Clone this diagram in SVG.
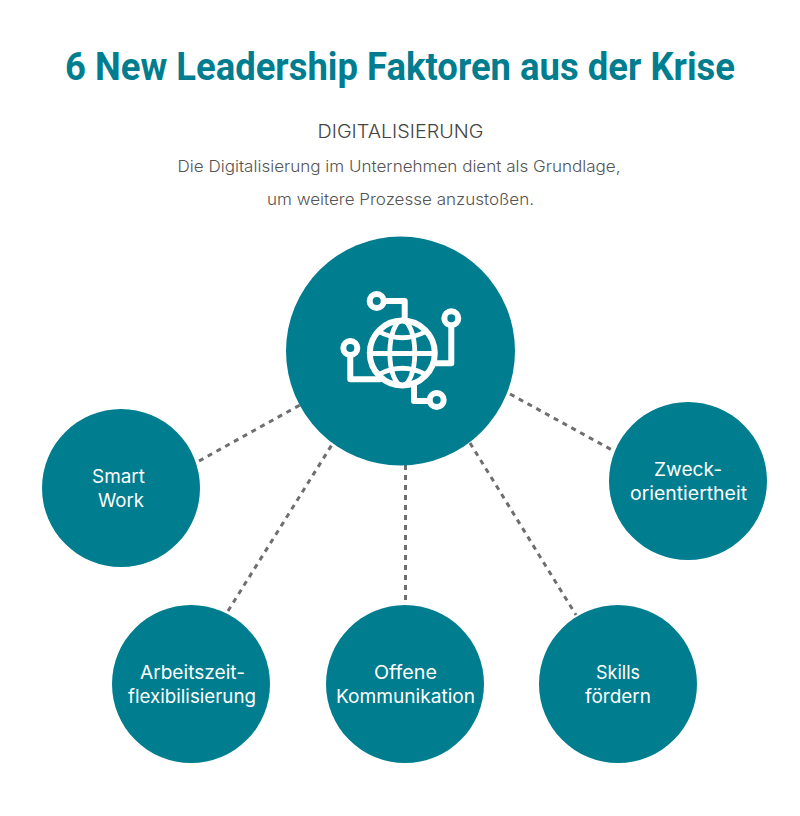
<svg xmlns="http://www.w3.org/2000/svg" width="800" height="816" viewBox="0 0 800 816">
<style>
text{font-family:"Inter","Noto Sans","Liberation Sans",sans-serif;text-anchor:middle}
.title{font-family:"Roboto","Liberation Sans",sans-serif;font-size:39px;font-weight:700;fill:#007d8f}
.sub{font-size:18px;font-weight:300;fill:#444}
.body{font-size:16px;font-weight:300;fill:#555}
.lab{font-size:18.500px;font-weight:400;fill:#fff}
.disc{fill:#007d8f}
.link{stroke:#6d6e70;stroke-width:3;stroke-dasharray:5 5;fill:none}
.ic{fill:none;stroke:#fff;stroke-width:6;stroke-linejoin:round;stroke-linecap:round}
.ic2{fill:none;stroke:#fff;stroke-width:4.800;stroke-linecap:butt}
</style>
<rect width="800" height="816" fill="#fff"/>
<text class="title" x="400" y="80" textLength="670" lengthAdjust="spacingAndGlyphs">6 New Leadership Faktoren aus der Krise</text>
<text class="sub" x="400.500" y="138" textLength="166" lengthAdjust="spacingAndGlyphs">DIGITALISIERUNG</text>
<text class="body" x="399" y="172" textLength="443" lengthAdjust="spacingAndGlyphs">Die Digitalisierung im Unternehmen dient als Grundlage,</text>
<text class="body" x="400.500" y="205" textLength="267" lengthAdjust="spacingAndGlyphs">um weitere Prozesse anzustoßen.</text>
<g id="connectors">
<line class="link" x1="199" y1="461" x2="300" y2="405"/>
<line class="link" x1="228" y1="611" x2="333" y2="443"/>
<line class="link" x1="405.500" y1="465" x2="405.500" y2="605"/>
<line class="link" x1="470" y1="443" x2="576" y2="615"/>
<line class="link" x1="510" y1="394" x2="612" y2="450"/>
</g>
<g id="node-digitalisierung">
<circle class="disc" cx="400.500" cy="351" r="114.500"/>
<g class="ic">
<circle cx="402.300" cy="353" r="32.500"/>
<circle cx="376.700" cy="301" r="7"/>
<circle cx="451.300" cy="318.300" r="7"/>
<circle cx="350.300" cy="348" r="7"/>
<circle cx="436.700" cy="400" r="7"/>
<path d="M384 301H404.700V318"/>
<path d="M451.300 326V363.300H436"/>
<path d="M350.300 355.500V379.300H380"/>
<path d="M414 385V401H429"/>
</g>
<g class="ic2">
<ellipse cx="402.300" cy="353" rx="12.500" ry="32.500"/>
<path d="M370 353.500H435"/>
<path d="M378.500 331.500Q402.300 344 426 331.500M378.500 374.500Q402.300 362 426 374.500"/>
</g>
</g>
<g id="node-smart-work">
<circle class="disc" cx="121" cy="488" r="79"/>
<text class="lab" x="118.500" y="483" textLength="53" lengthAdjust="spacingAndGlyphs">Smart</text>
<text class="lab" x="121" y="507" textLength="46" lengthAdjust="spacingAndGlyphs">Work</text>
</g>
<g id="node-arbeitszeit">
<circle class="disc" cx="191" cy="684" r="79"/>
<text class="lab" x="192.500" y="679" textLength="105" lengthAdjust="spacingAndGlyphs">Arbeitszeit-</text>
<text class="lab" x="192" y="703" textLength="128" lengthAdjust="spacingAndGlyphs">flexibilisierung</text>
</g>
<g id="node-kommunikation">
<circle class="disc" cx="405" cy="684" r="79"/>
<text class="lab" x="405.500" y="679" textLength="63" lengthAdjust="spacingAndGlyphs">Offene</text>
<text class="lab" x="405.500" y="703" textLength="139" lengthAdjust="spacingAndGlyphs">Kommunikation</text>
</g>
<g id="node-skills">
<circle class="disc" cx="618" cy="684" r="79"/>
<text class="lab" x="618" y="679" textLength="44" lengthAdjust="spacingAndGlyphs">Skills</text>
<text class="lab" x="618" y="703" textLength="66" lengthAdjust="spacingAndGlyphs">fördern</text>
</g>
<g id="node-zweck">
<circle class="disc" cx="688" cy="481" r="79"/>
<text class="lab" x="688" y="476" textLength="68" lengthAdjust="spacingAndGlyphs">Zweck-</text>
<text class="lab" x="688.500" y="500" textLength="117" lengthAdjust="spacingAndGlyphs">orientiertheit</text>
</g>
</svg>
